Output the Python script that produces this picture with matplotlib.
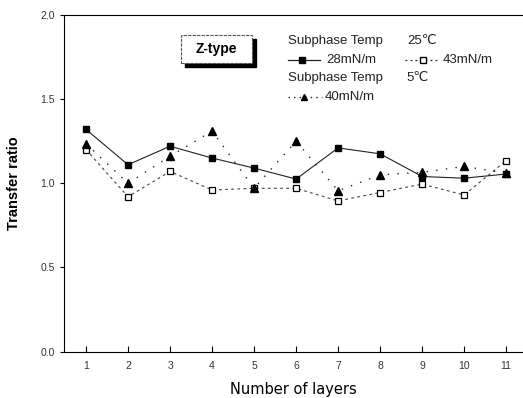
import matplotlib
matplotlib.use("Agg")
import matplotlib.pyplot as plt
from matplotlib.patches import Rectangle

plt.rcParams['font.family'] = ['Liberation Sans', 'DejaVu Sans']

# --- data ---
layers = [1, 2, 3, 4, 5, 6, 7, 8, 9, 10, 11]
t25_28 = [1.32, 1.11, 1.22, 1.15, 1.09, 1.025, 1.21, 1.175, 1.04, 1.03, 1.055]
t25_43 = [1.20, 0.92, 1.07, 0.96, 0.97, 0.97, 0.895, 0.945, 0.995, 0.93, 1.135]
t5_40 = [1.235, 1.00, 1.16, 1.31, 0.97, 1.25, 0.955, 1.05, 1.065, 1.10, 1.06]
yticks = [0.0, 0.5, 1.0, 1.5, 2.0]

fig = plt.figure(figsize=(5.23, 3.98), dpi=100)
ax = fig.add_axes([64/523, 1-351.5/398, (523-64)/523, (351.5-15)/398])

ax.plot(layers, t25_28, color='#222222', lw=0.8, ls='-', marker='s', ms=5,
        mfc='black', mec='black')
ax.plot(layers, t25_43, color='#444444', lw=0.8, ls=(0, (2.5, 3)), marker='s', ms=5,
        mfc='white', mec='black', mew=0.9)
ax.plot(layers, t5_40, color='#222222', lw=1.0, ls=(0, (1, 6)), marker='^', ms=6,
        mfc='black', mec='black')

ax.set_xlim(0.476, 11.4)
ax.set_ylim(0, 2.0)
ax.set_xticks(layers)
ax.set_yticks(yticks)
ax.set_yticklabels([f"{v:.1f}" for v in yticks])
ax.tick_params(axis='x', direction='in', length=4, labelsize=7.5, labelcolor='#333333', pad=7)
ax.tick_params(axis='y', direction='out', length=3, labelsize=7.5, labelcolor='#333333')
for s in ['left', 'bottom', 'top']:
    ax.spines[s].set_linewidth(0.8)
ax.spines['right'].set_visible(False)

ax.set_xlabel('Number of layers', fontsize=10.5, family='DejaVu Sans', labelpad=8)
ax.set_ylabel('Transfer ratio', fontsize=10.5, fontweight='bold', labelpad=14)

# helpers: pixel -> figure coords
def fx(px):
    return px/523
def fy(py):
    return 1 - py/398

# Z-type box with shadow
bx, by, bw, bh = fx(181), fy(63), 71/523, 28/398
fig.patches.append(Rectangle((bx+4/523, by-4/398), bw, bh, transform=fig.transFigure,
                             facecolor='black', edgecolor='black', zorder=3))
fig.patches.append(Rectangle((bx, by), bw, bh, transform=fig.transFigure,
                             facecolor='white', edgecolor='#555555', lw=0.8,
                             ls=(0, (3, 1)), zorder=4))
fig.text(bx + bw/2, by + bh/2, 'Z-type', ha='center', va='center', fontsize=10,
         fontweight='bold', zorder=5)

# legend
fs = 9.5
fig.text(fx(288), fy(41), 'Subphase Temp', fontsize=fs, va='center', color='#222222')
fig.text(fx(407), fy(41), '25\u2103', fontsize=fs, va='center', color='#222222')
fig.text(fx(288), fy(78), 'Subphase Temp', fontsize=fs, va='center', color='#222222')
fig.text(fx(406), fy(78), '5\u2103', fontsize=fs, va='center', color='#222222')

def sample(x0, x1, xm, y0, ls, marker, mfc, lw, ms):
    fig.add_artist(plt.Line2D([fx(x0), fx(x1)], [fy(y0), fy(y0)], transform=fig.transFigure,
                              color='#222222', lw=lw, ls=ls))
    fig.add_artist(plt.Line2D([fx(xm)], [fy(y0)], transform=fig.transFigure,
                              marker=marker, ms=ms, mfc=mfc, mec='black', ls='none'))

sample(288, 320, 302, 60, '-', 's', 'black', 0.9, 4.5)
fig.text(fx(326), fy(60), '28mN/m', fontsize=fs, va='center', color='#222222')
sample(405, 440, 423, 60, (0, (1.5, 2.5)), 's', 'white', 0.9, 4)
fig.text(fx(443), fy(60), '43mN/m', fontsize=fs, va='center', color='#222222')
sample(288, 322, 304, 97, (0, (1, 3)), '^', 'black', 1.0, 5)
fig.text(fx(325), fy(97), '40mN/m', fontsize=fs, va='center', color='#222222')

fig.savefig('out.png', dpi=100)
